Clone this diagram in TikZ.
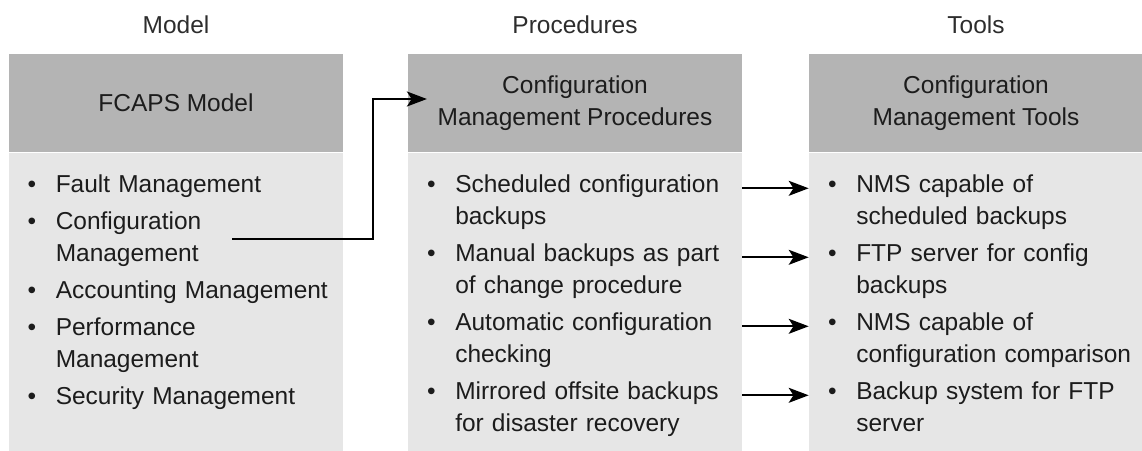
\documentclass[tikz,border=0pt]{standalone}
\usepackage{fontspec}
\setmainfont{Liberation Sans}
\usepackage{xcolor}
\usetikzlibrary{arrows.meta,positioning}
\definecolor{headgray}{RGB}{180,180,180}
\definecolor{bodygray}{RGB}{230,230,230}
\definecolor{inkgray}{RGB}{28,28,28}
\definecolor{titlegray}{RGB}{45,45,45}

\begin{document}
\begin{tikzpicture}[x=0.025cm,y=-0.025cm,
    every node/.style={font=\fontsize{17.4pt}{22.8pt}\selectfont, text=inkgray, inner sep=0pt},
    coltitle/.style={anchor=base, text=titlegray},
    head/.style={fill=headgray, minimum width=8.35cm, minimum height=2.45cm, align=center},
    body/.style={fill=bodygray, minimum width=8.35cm, minimum height=7.45cm},
    bul/.style={anchor=base},
    item/.style={anchor=base west, text width=7.2cm, align=left},
    arr/.style={-{Stealth[length=0.5cm,width=0.375cm,inset=0.12cm]}, line width=1.4pt, black}]

            \useasboundingbox (0,0) rectangle (1142,450);

            % Define the column titles
            \node[coltitle] (tmodel) at (176,33) {Model};
            \node[coltitle] (tproc) at (575,33) {Procedures};
            \node[coltitle] (ttools) at (976,33) {Tools};

            % Define the three columns (grey head, light body)
            \node[head] (mhead) at (176,103) {FCAPS Model};
            \node[body, below=0pt of mhead] (mbody) {};
            \node[head] (phead) at (575,103) {Configuration\\Management Procedures};
            \node[body, below=0pt of phead] (pbody) {};
            \node[head] (thead) at (976,103) {Configuration\\Management Tools};
            \node[body, below=0pt of thead] (tbody) {};

            % Define the model list
            \foreach \y [count=\i] in {192,229,298,335,404}
                \node[bul] (mb\i) at (32,\y) {\textbullet};
            \node[item] (m1) at (55.5,192) {Fault Management};
            \node[item, text width=3.7cm] (m2) at (55.5,229) {Configuration\\Management};
            \node[item] (m3) at (55.5,298) {Accounting Management};
            \node[item] (m4) at (55.5,335) {Performance\\Management};
            \node[item] (m5) at (55.5,404) {Security Management};

            % Define the procedures list
            \foreach \y [count=\i] in {192,261,330,399}
                \node[bul] (pb\i) at (431.5,\y) {\textbullet};
            \node[item] (p1) at (455,192) {Scheduled configuration\\backups};
            \node[item] (p2) at (455,261) {Manual backups as part\\of change procedure};
            \node[item] (p3) at (455,330) {Automatic configuration\\checking};
            \node[item] (p4) at (455,399) {Mirrored offsite backups\\for disaster recovery};

            % Define the tools list
            \foreach \y [count=\i] in {192,261,330,399}
                \node[bul] (tb\i) at (832.5,\y) {\textbullet};
            \node[item] (t1) at (856,192) {NMS capable of\\scheduled backups};
            \node[item] (t2) at (856,261) {FTP server for config\\backups};
            \node[item] (t3) at (856,330) {NMS capable of\\configuration comparison};
            \node[item] (t4) at (856,399) {Backup system for FTP\\server};

            % Add the arrow from the model to the procedures
            \coordinate (bend) at (373,99);
            \draw[arr, shorten <=0.7cm] (m2.east) -| (bend) -- ([xshift=0.48cm]bend -| phead.west);

            % Add the arrows from each procedure to its tool
            \draw[arr] (p1.mid -| pbody.east) -- (t1.mid -| tbody.west);
            \draw[arr] (p2.mid -| pbody.east) -- (t2.mid -| tbody.west);
            \draw[arr] (p3.mid -| pbody.east) -- (t3.mid -| tbody.west);
            \draw[arr] (p4.mid -| pbody.east) -- (t4.mid -| tbody.west);

        \end{tikzpicture}
\end{document}
